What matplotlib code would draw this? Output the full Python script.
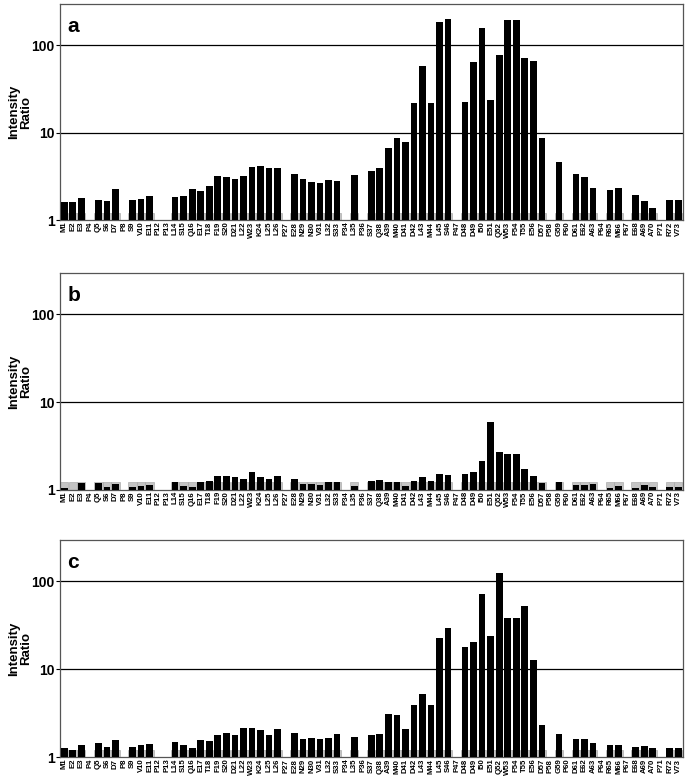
import numpy as np
import matplotlib
matplotlib.use("Agg")
import matplotlib.pyplot as plt

plt.rcParams["font.family"] = ["Liberation Sans", "DejaVu Sans"]

# Residuos de la secuencia (las prolinas no tienen barra)
residuos = [
    "M1", "E2", "E3", "P4", "Q5", "S6", "D7", "P8", "S9", "V10", "E11", "P12", "P13",
    "L14", "S15", "Q16", "E17", "T18", "F19", "S20", "D21", "L22", "W23", "K24", "L25",
    "L26", "P27", "E28", "N29", "N30", "V31", "L32", "S33", "P34", "L35", "P36", "S37",
    "Q38", "A39", "M40", "D41", "D42", "L43", "M44", "L45", "S46", "P47", "D48", "D49",
    "I50", "E51", "Q52", "W53", "F54", "T55", "E56", "D57", "P58", "G59", "P60", "D61",
    "E62", "A63", "P64", "R65", "M66", "P67", "E68", "A69", "A70", "P71", "R72", "V73",
]

nan = np.nan
ratio_a = [
    1.62, 1.60, 1.80, nan, 1.70, 1.66, 2.27, nan, 1.69, 1.75, 1.88, nan, nan,
    1.86, 1.91, 2.26, 2.16, 2.44, 3.18, 3.12, 2.96, 3.20, 4.08, 4.20, 3.92,
    3.92, nan, 3.34, 2.93, 2.73, 2.64, 2.88, 2.83, nan, 3.31, nan, 3.62,
    3.92, 6.67, 8.75, 7.81, 21.6, 58.5, 21.6, 182, 197, nan, 22.7, 63.8,
    155, 23.5, 76.7, 192, 192, 72.2, 65.5, 8.68, nan, 4.62, nan, 3.40,
    3.12, 2.32, nan, 2.22, 2.35, nan, 1.94, 1.65, 1.38, nan, 1.70, 1.70,
]
ratio_b = [
    1.06, 1.00, 1.19, nan, 1.19, 1.08, 1.16, nan, 1.08, 1.11, 1.13, nan, nan,
    1.22, 1.10, 1.07, 1.22, 1.25, 1.42, 1.42, 1.39, 1.33, 1.61, 1.40, 1.34,
    1.42, nan, 1.32, 1.17, 1.17, 1.12, 1.24, 1.23, nan, 1.10, nan, 1.27,
    1.29, 1.22, 1.23, 1.11, 1.27, 1.41, 1.27, 1.50, 1.47, nan, 1.50, 1.58,
    2.12, 6.00, 2.69, 2.53, 2.53, 1.71, 1.45, 1.19, nan, 1.24, nan, 1.13,
    1.14, 1.17, nan, 1.06, 1.10, nan, 1.04, 1.12, 1.07, nan, 1.07, 1.07,
]
ratio_c = [
    1.28, 1.20, 1.37, nan, 1.44, 1.31, 1.59, nan, 1.30, 1.37, 1.41, nan, nan,
    1.48, 1.37, 1.28, 1.57, 1.53, 1.78, 1.89, 1.78, 2.14, 2.14, 2.05, 1.78,
    2.10, nan, 1.88, 1.62, 1.66, 1.62, 1.67, 1.84, nan, 1.68, nan, 1.78,
    1.83, 3.09, 3.04, 2.12, 3.95, 5.31, 3.95, 22.7, 29.6, nan, 18.0, 20.3,
    72.2, 23.7, 123, 38.1, 38.1, 53.1, 12.9, 2.32, nan, 1.83, nan, 1.63,
    1.60, 1.46, nan, 1.37, 1.38, nan, 1.30, 1.35, 1.28, nan, 1.28, 1.28,
]
# nivel de la barra gris de referencia
nivel_gris = 1.22

paneles = [("a", ratio_a), ("b", ratio_b), ("c", ratio_c)]

# posiciones de los ejes en pixeles (top, bottom)
cajas = [(4, 220.3), (273.3, 489.8), (540, 757.3)]

W, H = 686, 783
fig = plt.figure(figsize=(W / 100, H / 100), dpi=100)

x = np.arange(len(residuos))

for (letra, valores), (top, bottom) in zip(paneles, cajas):
    ax = fig.add_axes([60 / W, 1 - bottom / H, 623 / W, (bottom - top) / H])
    valores = np.array(valores, dtype=float)
    hay = ~np.isnan(valores)

    ax.set_yscale("log")
    ax.set_ylim(1, 295)
    ax.set_xlim(-0.5, len(residuos) - 0.45)

    for yv in (10, 100):
        ax.axhline(yv, color="black", lw=0.9, zorder=1)

    ax.bar(x[hay], nivel_gris - 1, bottom=1, width=0.98, color="#c4c4c4",
           edgecolor="#a0a0a0", lw=0.4, zorder=2)
    ax.bar(x[hay], valores[hay] - 1, bottom=1, width=0.78, color="black", zorder=3)

    ax.set_yticks([1, 10, 100])
    ax.set_yticklabels(["1", "10", "100"], fontsize=10, fontweight="bold")
    ax.yaxis.set_minor_locator(matplotlib.ticker.NullLocator())
    ax.tick_params(axis="y", length=3, width=0.8, pad=1)

    ax.set_xticks(x)
    ax.set_xticklabels(residuos, rotation=90, fontsize=5.6, fontweight="bold")
    ax.tick_params(axis="x", length=0, pad=1)

    for s in ax.spines.values():
        s.set_color("#555555")
        s.set_linewidth(0.9)

    ax.set_ylabel("Intensity\nRatio", fontsize=9.5, fontweight="bold",
                  linespacing=1.05)
    ax.yaxis.set_label_coords(-0.044, 0.5)
    ax.text(0.012, 0.94, letra, transform=ax.transAxes, fontsize=15,
            fontweight="bold", va="top", ha="left")

fig.savefig("out.png", dpi=100)
